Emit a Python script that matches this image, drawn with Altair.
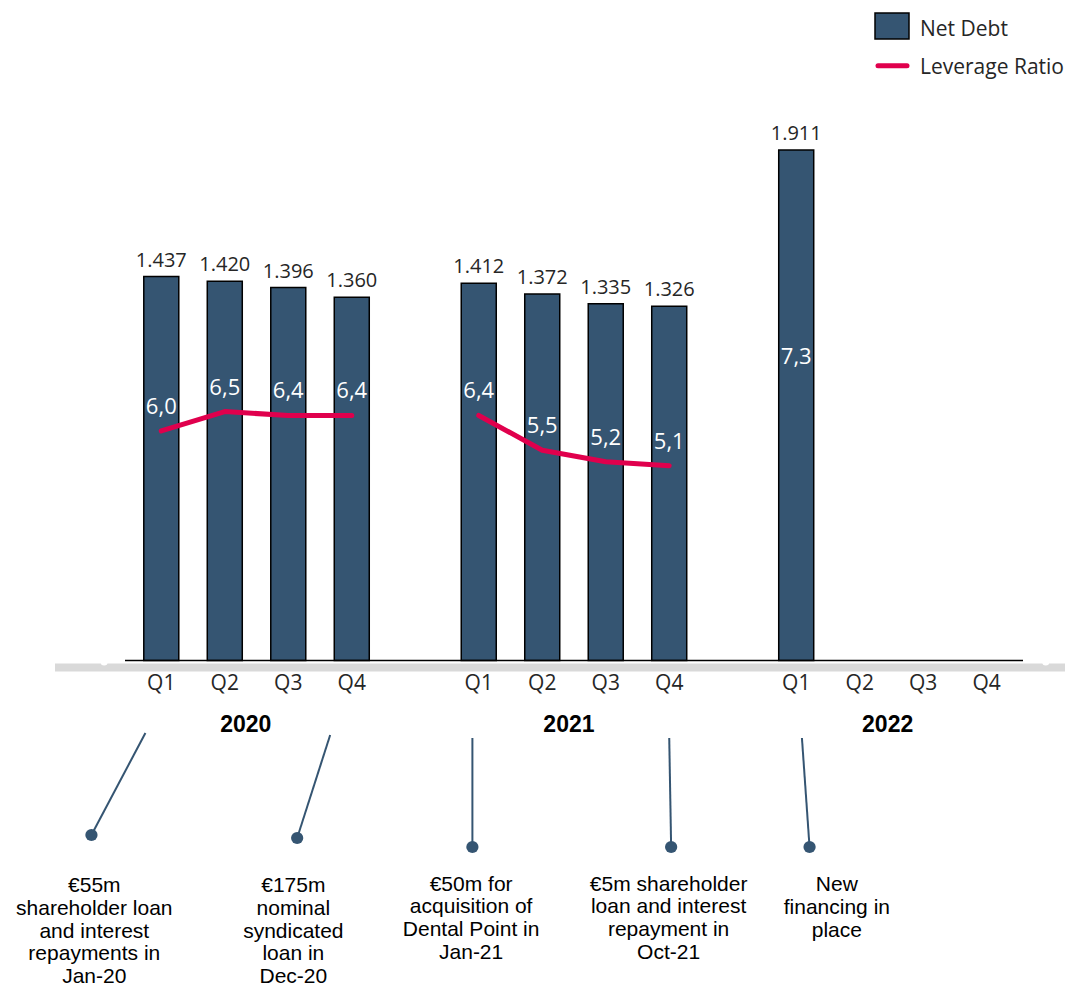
import altair as alt
import pandas as pd

# ---------------- data ----------------
years = ["2020", "2021", "2022"]
quarters = ["Q1", "Q2", "Q3", "Q4"]

bar_year = ["2020", "2020", "2020", "2020", "2021", "2021", "2021", "2021", "2022"]
bar_quarter = ["Q1", "Q2", "Q3", "Q4", "Q1", "Q2", "Q3", "Q4", "Q1"]
net_debt = [1437, 1420, 1396, 1360, 1412, 1372, 1335, 1326, 1911]
net_debt_label = ["1.437", "1.420", "1.396", "1.360", "1.412", "1.372", "1.335", "1.326", "1.911"]
leverage = [6.0, 6.5, 6.4, 6.4, 6.4, 5.5, 5.2, 5.1, 7.3]
leverage_label = ["6,0", "6,5", "6,4", "6,4", "6,4", "5,5", "5,2", "5,1", "7,3"]

ann_text = [
    ["€55m", "shareholder loan", "and interest", "repayments in", "Jan-20"],
    ["€175m", "nominal", "syndicated", "loan in", "Dec-20"],
    ["€50m for", "acquisition of", "Dental Point in", "Jan-21"],
    ["€5m shareholder", "loan and interest", "repayment in", "Oct-21"],
    ["New", "financing in", "place"],
]

# ---------------- layout (pixels / slot positions) ----------------
W, H = 1057, 981
SLOT_PX = 64.1
FIRST_PX = 149.7          # centre of 2020 Q1 in plot coords
x0 = -FIRST_PX / SLOT_PX
x1 = x0 + W / SLOT_PX
xs = alt.Scale(domain=[x0, x1], nice=False, zero=False)

ZERO_BAR = 652.5
K_BAR = 510.5 / 1911
ys_bar = alt.Scale(domain=[-(H - ZERO_BAR) / K_BAR, ZERO_BAR / K_BAR], nice=False, zero=False)
ZERO_LEV = 654.5
K_LEV = 38.6
ys_lev = alt.Scale(domain=[-(H - ZERO_LEV) / K_LEV, ZERO_LEV / K_LEV], nice=False, zero=False)
ys_pix = alt.Scale(domain=[H, 0], nice=False, zero=False)

def slot(y, q):
    return years.index(y) * 5 + quarters.index(q)

bars = pd.DataFrame({
    "year": bar_year, "quarter": bar_quarter, "debt": net_debt,
    "debt_label": net_debt_label, "lev": leverage, "lev_label": leverage_label,
})
bars["slot"] = [slot(y, q) for y, q in zip(bar_year, bar_quarter)]

qdf = pd.DataFrame([{"slot": slot(y, q), "q": q} for y in years for q in quarters])
ydf = pd.DataFrame({"year": years, "slot": [1.33, 6.42, 11.44]})

conn = pd.DataFrame({
    "xa": [-0.25, 2.66, 4.90, 8.00, 10.09],
    "ya": [725, 727, 730, 730, 730],
    "xb": [-1.10, 2.14, 4.90, 8.03, 10.21],
    "yb": [827, 830, 839, 839, 839],
})
ann_cx = [-1.055, 2.08, 4.88, 7.99, 10.64]
ann_y0 = [878.0, 878.0, 876.5, 876.5, 877.0]
LINE_STEP = 22.8
rows = []
for i, lines in enumerate(ann_text):
    for j, t in enumerate(lines):
        rows.append({"x": ann_cx[i], "y": ann_y0[i] + j * LINE_STEP, "t": t})
ann = pd.DataFrame(rows)

NAVY = "#355572"
RED = "#e0004d"
TXT = "#262626"
one = pd.DataFrame({"a": [0]})

# ---------------- layers ----------------
band = alt.Chart(one).mark_rule(color="#d9d9d9", strokeWidth=8).encode(
    x=alt.value(47), x2=alt.value(W), y=alt.value(659.5))

wdots = alt.Chart(pd.DataFrame({"x": [-0.90, 13.93], "y": [654, 654]})).mark_point(
    filled=True, color="white", size=50, opacity=1).encode(
    x=alt.X("x:Q", scale=xs, axis=None), y=alt.Y("y:Q", scale=ys_pix, axis=None))

bar = alt.Chart(bars).mark_bar(size=35, color=NAVY, stroke="black", strokeWidth=1.5).encode(
    x=alt.X("slot:Q", scale=xs, axis=None),
    y=alt.Y("debt:Q", scale=ys_bar, axis=None),
    y2=alt.datum(0))

axis_line = alt.Chart(one).mark_rule(color="black", strokeWidth=1.5).encode(
    x=alt.value(117), x2=alt.value(1015), y=alt.value(652.5))

val_lab = alt.Chart(bars).mark_text(font="Open Sans", fontSize=20, color=TXT,
                                    baseline="alphabetic", dy=-10).encode(
    x=alt.X("slot:Q", scale=xs, axis=None),
    y=alt.Y("debt:Q", scale=ys_bar, axis=None),
    text="debt_label:N")

lev_line = alt.Chart(bars[bars["year"] != "2022"]).mark_line(
    color=RED, strokeWidth=5, strokeCap="round", strokeJoin="round").encode(
    x=alt.X("slot:Q", scale=xs, axis=None),
    y=alt.Y("lev:Q", scale=ys_lev, axis=None),
    detail="year:N")

lev_lab = alt.Chart(bars).mark_text(font="Open Sans", fontSize=22, color="white",
                                    baseline="middle", dy=-24).encode(
    x=alt.X("slot:Q", scale=xs, axis=None),
    y=alt.Y("lev:Q", scale=ys_lev, axis=None),
    text="lev_label:N")

q_lab = alt.Chart(qdf).mark_text(font="Open Sans", fontSize=21, color=TXT,
                                 baseline="alphabetic").encode(
    x=alt.X("slot:Q", scale=xs, axis=None), y=alt.value(682), text="q:N")

y_lab = alt.Chart(ydf).mark_text(font="Liberation Sans", fontSize=23, fontWeight="bold",
                                 color="black", baseline="alphabetic").encode(
    x=alt.X("slot:Q", scale=xs, axis=None), y=alt.value(723.5), text="year:N")

connectors = alt.Chart(conn).mark_rule(color=NAVY, strokeWidth=2).encode(
    x=alt.X("xa:Q", scale=xs, axis=None), x2="xb:Q",
    y=alt.Y("ya:Q", scale=ys_pix, axis=None), y2="yb:Q")

cdots = alt.Chart(conn).mark_circle(color=NAVY, size=150, opacity=1).encode(
    x=alt.X("xb:Q", scale=xs, axis=None), y=alt.Y("yb:Q", scale=ys_pix, axis=None))

ann_txt = alt.Chart(ann).mark_text(font="Liberation Sans", fontSize=21, color="black",
                                   baseline="middle").encode(
    x=alt.X("x:Q", scale=xs, axis=None), y=alt.Y("y:Q", scale=ys_pix, axis=None), text="t:N")

leg_rect = alt.Chart(one).mark_rect(color=NAVY, stroke="black", strokeWidth=1.5).encode(
    x=alt.value(867), x2=alt.value(901), y=alt.value(5), y2=alt.value(31))
leg_line = alt.Chart(one).mark_rule(color=RED, strokeWidth=5, strokeCap="round").encode(
    x=alt.value(870), x2=alt.value(899), y=alt.value(57.7))
leg_txt = alt.Chart(pd.DataFrame({"t": ["Net Debt", "Leverage Ratio"], "y": [28, 66]})).mark_text(
    font="Open Sans", fontSize=21, color=TXT, align="left", baseline="alphabetic").encode(
    x=alt.value(912), y=alt.Y("y:Q", scale=ys_pix, axis=None), text="t:N")

chart = alt.layer(
    band, wdots, bar, axis_line, val_lab, lev_line, lev_lab, q_lab, y_lab,
    connectors, cdots, ann_txt, leg_rect, leg_line, leg_txt,
).resolve_scale(y="independent").properties(
    width=W, height=H, autosize=alt.AutoSizeParams(type="none"), padding=0,
).configure_view(stroke=None)

chart.save("out.html", embed_options={"renderer": "svg", "actions": False})
